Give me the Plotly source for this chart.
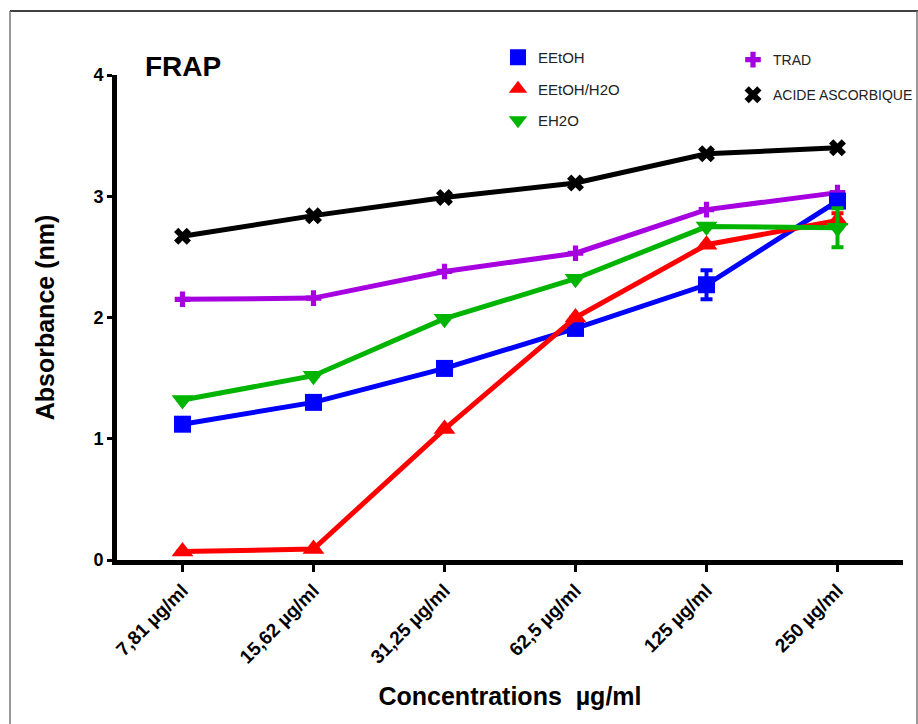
import plotly.graph_objects as go

categories = ["7,81 µg/ml", "15,62 µg/ml", "31,25 µg/ml", "62,5 µg/ml", "125 µg/ml", "250 µg/ml"]
eetoh = [1.12, 1.30, 1.58, 1.91, 2.27, 2.96]
eetoh_err = [0, 0, 0, 0, 0.12, 0]
eetoh_h2o = [0.07, 0.09, 1.08, 2.00, 2.60, 2.80]
eetoh_h2o_err = [0, 0, 0, 0, 0, 0.06]
eh2o = [1.32, 1.52, 1.99, 2.32, 2.75, 2.74]
eh2o_err = [0, 0, 0, 0, 0, 0.16]
trad = [2.15, 2.16, 2.38, 2.53, 2.89, 3.03]
acide = [2.67, 2.84, 2.99, 3.11, 3.35, 3.40]

FONT = "Liberation Sans, Arial, sans-serif"
W, H = 918, 724
L, R, T, B = 117, 15, 75, 164
PW, PH = W - L - R, H - T - B

def px(xp):
    return (xp - L) / PW

def py(yp):
    return (H - B - yp) / PH

series = [
    ("TRAD", trad, None, "#a600e0", "cross", 13, "legend2"),
    ("ACIDE ASCORBIQUE", acide, None, "black", "x", 15, "legend2"),
    ("EEtOH", eetoh, eetoh_err, "#0000ff", "square", 17, "legend"),
    ("EEtOH/H2O", eetoh_h2o, eetoh_h2o_err, "#ff0000", "triangle-up", 19, "legend"),
    ("EH2O", eh2o, eh2o_err, "#00b400", "triangle-down", 19, "legend"),
]

fig = go.Figure()
for name, vals, err, col, sym, sz, lg in series:
    kw = {}
    if err is not None:
        kw["error_y"] = dict(type="data", array=err, color=col, thickness=4, width=6)
    fig.add_trace(go.Scatter(
        x=categories, y=vals, mode="lines+markers", name=name,
        line=dict(color=col, width=5),
        marker=dict(color=col, symbol=sym, size=sz, line=dict(width=0)),
        showlegend=False, **kw))

legend_order = ["EEtOH", "EEtOH/H2O", "EH2O", "TRAD", "ACIDE ASCORBIQUE"]
lookup = {s[0]: s for s in series}
for nm in legend_order:
    name, vals, err, col, sym, sz, lg = lookup[nm]
    fig.add_trace(go.Scatter(
        x=[None], y=[None], mode="markers", name=name,
        marker=dict(color=col, symbol=sym, size=sz, line=dict(width=0)),
        showlegend=True, legend=lg, legendgroup=name))

fig.update_layout(
    width=W, height=H,
    margin=dict(l=L, r=R, t=T, b=B, autoexpand=False),
    paper_bgcolor="white", plot_bgcolor="white",
    font=dict(family=FONT, color="black"),
    xaxis=dict(
        type="category", range=[-0.5, 5.5], automargin=False,
        showgrid=False, zeroline=False,
        showline=True, linecolor="black", linewidth=5,
        ticks="outside", ticklen=7, tickwidth=3, tickcolor="black",
        tickangle=-45,
        tickfont=dict(family=FONT, size=19, color="black", weight="bold"),
        title=dict(text="Concentrations\u00a0 µg/ml", standoff=22,
                   font=dict(family=FONT, size=25, color="black", weight="bold")),
    ),
    yaxis=dict(
        range=[0, 4], tickvals=[0, 1, 2, 3, 4], automargin=False,
        showgrid=False, zeroline=False,
        showline=True, linecolor="black", linewidth=5,
        ticks="outside", ticklen=5, tickwidth=3, tickcolor="black",
        tickfont=dict(family=FONT, size=18, color="black", weight="bold"),
        title=dict(text="Absorbance (nm)", standoff=33,
                   font=dict(family=FONT, size=25, color="black", weight="bold")),
    ),
    legend=dict(x=px(498), y=py(41), xanchor="left", yanchor="top",
                bgcolor="rgba(0,0,0,0)", tracegroupgap=9,
                font=dict(family=FONT, size=15, color="#222"), itemclick=False),
    legend2=dict(x=px(733), y=py(44), xanchor="left", yanchor="top",
                 bgcolor="rgba(0,0,0,0)", tracegroupgap=14,
                 font=dict(family=FONT, size=14, color="#222"), itemclick=False),
    annotations=[dict(text="<b>FRAP</b>", x=px(143), y=py(66), xref="paper", yref="paper",
                      xanchor="left", yanchor="middle", showarrow=False,
                      font=dict(family=FONT, size=28, color="black"))],
    shapes=[
        dict(type="line", xref="paper", yref="paper", x0=px(10), x1=px(918), y0=py(11), y1=py(11),
             line=dict(color="black", width=1.5), layer="below"),
        dict(type="line", xref="paper", yref="paper", x0=px(10), x1=px(10), y0=py(11), y1=py(730),
             line=dict(color="#777", width=1.5), layer="below"),
        dict(type="line", xref="paper", yref="paper", x0=px(917), x1=px(917), y0=py(11), y1=py(730),
             line=dict(color="#777", width=1.5), layer="below"),
    ],
)

fig.write_html("out.html")
